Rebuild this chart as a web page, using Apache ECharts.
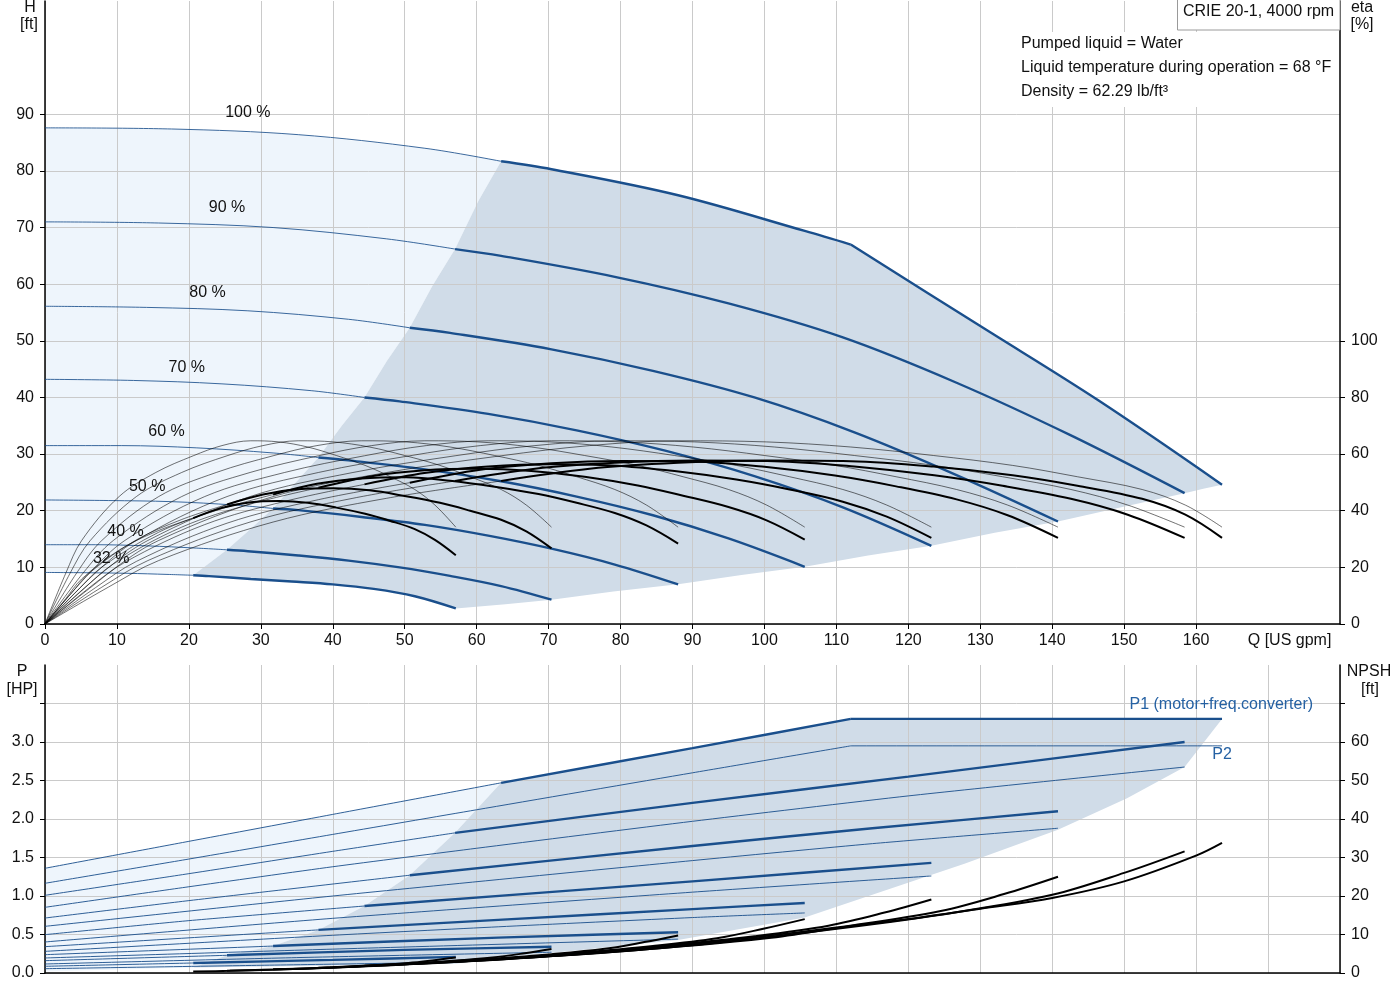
<!DOCTYPE html>
<html><head><meta charset="utf-8">
<script src="https://cdn.jsdelivr.net/npm/echarts@6.0.0/dist/echarts.min.js"></script>
<style>html,body{margin:0;padding:0;background:#fff}#chart{width:1400px;height:1000px}</style>
</head><body><div id="chart"></div>
<script>
// ---------- axis ticks / labels ----------
const qTicks = [0,10,20,30,40,50,60,70,80,90,100,110,120,130,140,150,160];
const qLabelValues = [0,10,20,30,40,50,60,70,80,90,100,110,120,130,140,150,160,170];
const qUnitLabel = 'Q [US gpm]';
const hTicks = [0,10,20,30,40,50,60,70,80,90];
const etaTicks = [0,20,40,60,80,100];
const pTicks = [0,0.5,1,1.5,2,2.5,3];
const pTickMarks = [0,0.5,1,1.5,2,2.5,3,3.5];
const npshTicks = [0,10,20,30,40,50,60];
const npshTickMarks = [0,10,20,30,40,50,60,70];

// ---------- speed labels ----------
const speeds = ['100 %','90 %','80 %','70 %','60 %','50 %','40 %','32 %'];
const speedLabelQ = [28.2, 25.3, 22.6, 19.7, 16.9, 14.2, 11.2, 9.2];
const speedLabelH = [90.3, 73.5, 58.5, 45.3, 33.9, 24.2, 16.3, 11.5];
const thickStartQ = [63.4, 57, 50.7, 44.4, 38, 31.7, 25.3, 20.6];
const powerLimitQ = 112;

// ---------- head curves H [ft] ----------
const headQ100 = [0, 17.6, 35.2, 52.8, 63.4, 70.4, 88, 105.6, 112, 130, 146.4, 163.6];
const head100  = [87.6, 87.4, 86.4, 84.0, 81.7, 80.3, 75.7, 69.4, 67.0, 52.6, 39.5, 24.6];
const headQ90 = [0, 15.8, 31.7, 47.5, 57.0, 63.4, 79.2, 95.0, 110.9, 126.7, 142.6, 158.4];
const head90  = [71.0, 70.8, 70.0, 68.0, 66.2, 65.0, 61.3, 56.6, 50.6, 42.6, 33.3, 23.1];
const headQ80 = [0, 14.1, 28.2, 42.2, 50.7, 56.3, 70.4, 84.5, 98.6, 112.6, 126.7, 140.8];
const head80  = [56.1, 55.9, 55.3, 53.8, 52.3, 51.4, 48.5, 44.7, 40.0, 33.8, 26.3, 18.1];
const headQ70 = [0, 12.3, 24.6, 37.0, 44.4, 49.3, 61.6, 73.9, 86.2, 98.6, 110.9, 123.2];
const head70  = [43.2, 43.0, 42.4, 41.2, 40.0, 39.3, 37.1, 34.2, 30.6, 26.1, 20.6, 13.8];
const headQ60 = [0, 10.6, 21.1, 31.7, 38.0, 42.2, 52.8, 63.4, 73.9, 84.5, 95.0, 105.6];
const head60  = [31.5, 31.5, 31.1, 30.2, 29.4, 28.9, 27.3, 25.2, 22.5, 19.2, 15.1, 10.1];
const headQ50 = [0, 8.8, 17.6, 26.4, 31.7, 35.2, 44, 52.8, 61.6, 70.4, 79.2, 88];
const head50  = [21.9, 21.8, 21.6, 21.0, 20.4, 20.1, 18.9, 17.5, 15.6, 13.3, 10.5, 7.0];
const headQ40 = [0, 7.0, 14.1, 21.1, 25.3, 28.2, 35.2, 42.2, 49.3, 56.3, 63.4, 70.4];
const head40  = [14.0, 14.0, 13.8, 13.4, 13.1, 12.85, 12.1, 11.2, 10.0, 8.5, 6.7, 4.3];
const headQ32 = [0, 5.7, 11.4, 17.1, 20.6, 22.8, 28.6, 34.3, 40, 45.7, 51.4, 57.1];
const head32  = [9.1, 9.05, 8.95, 8.75, 8.6, 8.45, 7.95, 7.5, 7.0, 6.2, 4.9, 2.75];

// operating-area boundaries (top chart)
const hLeftQ = [20.6, 23, 25.3, 28.5, 31.7, 34.8, 38, 41.2, 44.4, 47.5, 50.7, 53.8, 57, 60.2, 63.4];
const hLeftH = [8.6, 10.9, 13.1, 16.7, 20.4, 24.9, 29.4, 34.9, 40.0, 46.4, 52.3, 59.6, 66.2, 74.6, 81.7];
const hRightQ = [57.1, 64, 70.4, 79, 88, 96.8, 105.6, 114.4, 123.2, 132, 140.8, 149.6, 158.4, 161, 163.6];
const hRightH = [2.75, 3.5, 4.3, 5.75, 7.0, 8.65, 10.1, 12.1, 13.8, 16.1, 18.1, 20.6, 23.1, 23.9, 24.6];

// ---------- efficiency curves eta [%] ----------
const etaQ100 = [0, 8.8, 15.8, 31.7, 47.5, 63.4, 75.7, 88.0, 100.3, 112.0, 123.5, 134.5, 143.5, 152.5, 158.5, 163.6];
const etaQ90  = [0, 7.9, 14.3, 28.5, 42.8, 57.0, 68.1, 79.2, 90.3, 101.4, 112.5, 123.6, 133.1, 142.6, 150.5, 158.4];
const etaQ80  = [0, 7.0, 12.7, 25.3, 38.0, 50.7, 60.5, 70.4, 80.3, 90.1, 100.0, 109.8, 118.3, 126.7, 133.8, 140.8];
const etaQ70  = [0, 6.2, 11.1, 22.2, 33.3, 44.4, 53.0, 61.6, 70.2, 78.8, 87.5, 96.1, 103.5, 110.9, 117.0, 123.2];
const etaQ60  = [0, 5.3, 9.5, 19.0, 28.5, 38.0, 45.4, 52.8, 60.2, 67.6, 75.0, 82.4, 88.7, 95.0, 100.3, 105.6];
const etaQ50  = [0, 4.4, 7.9, 15.8, 23.8, 31.7, 37.8, 44.0, 50.2, 56.3, 62.5, 68.6, 73.9, 79.2, 83.6, 88.0];
const etaQ40  = [0, 3.5, 6.3, 12.7, 19.0, 25.3, 30.3, 35.2, 40.1, 45.1, 50.0, 54.9, 59.1, 63.4, 66.9, 70.4];
const etaQ32  = [0, 2.9, 5.1, 10.3, 15.4, 20.6, 24.6, 28.6, 32.5, 36.5, 40.5, 44.5, 48.0, 51.4, 54.2, 57.1];
const etaPump = [0, 18, 29.5, 45, 53.5, 59.4, 63, 64.7, 64.3, 62.5, 59.5, 56, 52, 47.5, 42, 34.2];
const etaTot100 = [0, 13.0, 22.4, 36.0, 44.4, 50.5, 54.8, 56.9, 57.7, 57.5, 55.6, 52.5, 48.8, 44.2, 38.6, 30.4];
const etaTot90  = [0, 13.0, 22.4, 36.0, 44.4, 50.5, 54.8, 56.9, 57.7, 57.5, 55.6, 52.5, 48.8, 44.2, 38.6, 30.4];
const etaTot80  = [0, 12.8, 22.1, 35.6, 43.9, 49.9, 54.5, 56.8, 57.6, 57.4, 55.5, 52.4, 48.6, 44.0, 38.4, 30.4];
const etaTot70  = [0, 12.6, 21.8, 35.1, 43.3, 49.3, 53.4, 55.6, 56.4, 56.0, 54.0, 51.0, 47.5, 43.2, 37.9, 30.4];
const etaTot60  = [0, 12.2, 21.2, 34.2, 42.3, 48.1, 52.2, 54.3, 54.8, 54.0, 52.0, 48.9, 45.3, 41.3, 36.6, 29.8];
const etaTot50  = [0, 11.5, 20.1, 32.4, 40.1, 45.7, 49.5, 51.4, 51.8, 50.6, 48.5, 45.9, 42.8, 39.2, 34.8, 28.4];
const etaTot40  = [0, 10.4, 18.3, 29.7, 36.9, 42.2, 45.7, 47.6, 47.9, 47.2, 45.2, 42.8, 40.0, 36.8, 32.7, 26.7];
const etaTot32  = [0, 9.0, 15.9, 26.1, 32.6, 37.4, 41.0, 43.0, 43.4, 42.8, 41.1, 38.9, 36.4, 33.5, 29.7, 24.3];

// ---------- power curves P [HP] ----------
const p1Q100 = [0, 20, 40, 63.4, 90, 112, 163.6];   const p1_100 = [1.36, 1.71, 2.06, 2.47, 2.92, 3.30, 3.30];
const p2Q100 = [0, 20, 40, 60, 90, 112, 163.6];     const p2_100 = [1.165, 1.48, 1.80, 2.12, 2.60, 2.95, 2.95];
const p1Q90 = [0, 20, 40, 57, 90, 120, 158.4];      const p1_90 = [1.009, 1.29, 1.58, 1.82, 2.21, 2.55, 3.0];
const p2Q90 = [0, 20, 40, 60, 90, 120, 158.4];      const p2_90 = [0.853, 1.12, 1.38, 1.62, 1.97, 2.30, 2.675];
const p1Q80 = [0, 20, 50.7, 90, 115, 140.8];        const p1_80 = [0.714, 0.94, 1.27, 1.65, 1.88, 2.10];
const p2Q80 = [0, 40, 90, 115, 140.8];              const p2_80 = [0.606, 1.0, 1.46, 1.68, 1.88];
const p1Q70 = [0, 20, 44.4, 90, 123.2];             const p1_70 = [0.498, 0.68, 0.87, 1.19, 1.43];
const p2Q70 = [0, 40, 90, 123.2];                   const p2_70 = [0.403, 0.71, 1.05, 1.26];
const p1Q60 = [0, 38, 63, 90, 105.6];               const p1_60 = [0.342, 0.56, 0.69, 0.83, 0.91];
const p2Q60 = [0, 40, 63, 90, 105.6];               const p2_60 = [0.281, 0.49, 0.60, 0.72, 0.78];
const p1Q50 = [0, 31.7, 63, 88];                    const p1_50 = [0.238, 0.35, 0.46, 0.53];
const p2Q50 = [0, 40, 88];                          const p2_50 = [0.195, 0.31, 0.44];
const p1Q40 = [0, 25.3, 50, 70.4];                  const p1_40 = [0.16, 0.23, 0.30, 0.34];
const p2Q40 = [0, 35, 70.4];                        const p2_40 = [0.117, 0.20, 0.27];
const p1Q32 = [0, 20.6, 40, 57.1];                  const p1_32 = [0.087, 0.13, 0.17, 0.21];
const p2Q32 = [0, 30, 57.1];                        const p2_32 = [0.056, 0.10, 0.14];

// operating-area boundaries (bottom chart)
const pLeftQ = [20.6, 25.3, 31.7, 38, 44.4, 50.7, 57, 63.4];
const pLeftP = [0.07, 0.23, 0.35, 0.56, 0.87, 1.27, 1.82, 2.47];
const pRightQ = [20.6, 57.1, 63, 70.4, 88, 105.6, 127.8, 140.8, 150.4, 158.4, 163.6];
const pRightP = [0.07, 0.12, 0.20, 0.26, 0.43, 0.72, 1.42, 1.86, 2.27, 2.675, 3.30];
const pLightFloor = 0.02;

// ---------- NPSH curves [ft] ----------
const nQ100 = [63.4, 79.2, 100.3, 112, 120, 130, 140, 150, 160, 163.6];
const npsh100 = [3.8, 5.5, 9.0, 12.2, 14.0, 16.7, 19.5, 23.8, 30.5, 33.8];
const nQ90 = [57, 71.3, 90.3, 110.9, 126.7, 140, 150, 158.4];
const npsh90 = [3.08, 4.46, 7.29, 11.7, 15.8, 20.3, 26.0, 31.6];
const nQ80 = [50.7, 63.4, 80.3, 98.6, 112.6, 124.5, 133.3, 140.8];
const npsh80 = [2.43, 3.52, 5.76, 9.28, 12.5, 16.1, 20.5, 25.0];
const nQ70 = [44.4, 55.4, 70.2, 86.2, 98.6, 108.9, 116.7, 123.2];
const npsh70 = [1.86, 2.7, 4.41, 7.1, 9.56, 12.3, 15.7, 19.1];
const nQ60 = [38, 47.5, 60.2, 73.9, 84.5, 93.4, 100, 105.6];
const npsh60 = [1.37, 1.98, 3.24, 5.22, 7.02, 9.04, 11.56, 14.0];
const nQ50 = [31.7, 39.6, 50.2, 61.6, 70.4, 77.8, 83.3, 88];
const npsh50 = [0.95, 1.38, 2.25, 3.63, 4.88, 6.28, 8.03, 9.75];
const nQ40 = [25.3, 31.7, 40.1, 49.3, 56.3, 62.2, 66.7, 70.4];
const npsh40 = [0.61, 0.88, 1.44, 2.32, 3.12, 4.02, 5.14, 6.24];
const nQ32 = [20.6, 25.7, 32.5, 40, 45.7, 50.5, 54.1, 57.1];
const npsh32 = [0.39, 0.56, 0.92, 1.48, 2.0, 2.57, 3.29, 4.0];

// P1 / P2 label anchors
const p1LabelQ = 163.5, p1LabelP = 3.48, p1LabelText = 'P1 (motor+freq.converter)';
const p2LabelQ = 163.6, p2LabelP = 2.83, p2LabelText = 'P2';

// ---------- build ----------
const FONT = "'Liberation Sans', Arial, Helvetica, sans-serif";
const BLUE = '#1a4f8c';
const TXT = '#111111';
const GRIDC = '#cacaca';

const headSets = [[headQ100,head100],[headQ90,head90],[headQ80,head80],[headQ70,head70],[headQ60,head60],[headQ50,head50],[headQ40,head40],[headQ32,head32]];
const etaQs = [etaQ100,etaQ90,etaQ80,etaQ70,etaQ60,etaQ50,etaQ40,etaQ32];
const etaTots = [etaTot100,etaTot90,etaTot80,etaTot70,etaTot60,etaTot50,etaTot40,etaTot32];
const p1Sets = [[p1Q100,p1_100],[p1Q90,p1_90],[p1Q80,p1_80],[p1Q70,p1_70],[p1Q60,p1_60],[p1Q50,p1_50],[p1Q40,p1_40],[p1Q32,p1_32]];
const p2Sets = [[p2Q100,p2_100],[p2Q90,p2_90],[p2Q80,p2_80],[p2Q70,p2_70],[p2Q60,p2_60],[p2Q50,p2_50],[p2Q40,p2_40],[p2Q32,p2_32]];
const nSets = [[nQ100,npsh100],[nQ90,npsh90],[nQ80,npsh80],[nQ70,npsh70],[nQ60,npsh60],[nQ50,npsh50],[nQ40,npsh40],[nQ32,npsh32]];

function pairs(qs, vs){ return qs.map((q,i)=>[q, vs[i]]); }
function pieces(qs, vs, breaks){
  const pts = pairs(qs, vs);
  const b = [-Infinity, ...breaks, Infinity];
  const out = [];
  for (let i=0;i<b.length-1;i++) out.push(pts.filter(p=>p[0]>=b[i] && p[0]<=b[i+1]));
  return out;
}
const series = [];
function addLine(data, xi, yi, color, width, z, smooth){
  if (data.length < 2) return;
  series.push({type:'line', xAxisIndex:xi, yAxisIndex:yi, data, symbol:'none', showSymbol:false,
    smooth: smooth===undefined ? 0.35 : smooth, silent:true, animation:false, z: z||3,
    lineStyle:{color, width}});
}
function addPoly(xi, yi, pts, color){
  series.push({type:'custom', xAxisIndex:xi, yAxisIndex:yi, z:-1, silent:true, animation:false,
    data:[pts[0]],
    renderItem:(params, api)=>({type:'polygon', shape:{points: pts.map(p=>api.coord(p))}, style:{fill:color}})});
}

// ---- fills top
const h100pts = pairs(headQ100, head100);
const h32pts = pairs(headQ32, head32);
const leftPts = pairs(hLeftQ, hLeftH);
const rightPts = pairs(hRightQ, hRightH);
const lightTop = [
  ...h100pts.filter(p=>p[0]<=thickStartQ[0]),
  ...leftPts.slice(0,-1).reverse(),
  ...h32pts.filter(p=>p[0]<thickStartQ[7]).reverse()
];
const darkTop = [
  ...h100pts.filter(p=>p[0]>=thickStartQ[0]),
  ...rightPts.slice(0,-1).reverse(),
  ...h32pts.filter(p=>p[0]>=thickStartQ[7] && p[0]<hRightQ[0]).reverse(),
  ...leftPts.slice(1,-1)
];
addPoly(0,0,lightTop,'#eef5fc');
addPoly(0,0,darkTop,'#d0dce8');

// ---- fills bottom
const p1_100pts = pairs(p1Q100, p1_100);
const pLeftPts = pairs(pLeftQ, pLeftP);
const pRightPts = pairs(pRightQ, pRightP);
const lightBot = [
  ...p1_100pts.filter(p=>p[0]<=thickStartQ[0]),
  ...pLeftPts.slice(0,-1).reverse(),
  [0, pLightFloor]
];
const darkBot = [
  ...p1_100pts.filter(p=>p[0]>=thickStartQ[0]),
  ...pRightPts.slice(0,-1).reverse(),
  ...pLeftPts.slice(1,-1)
];
addPoly(1,2,lightBot,'#eef5fc');
addPoly(1,2,darkBot,'#d0dce8');

// ---- curves
for (let i=0;i<8;i++){
  const brk = i===0 ? [thickStartQ[i], powerLimitQ] : [thickStartQ[i]];
  // head
  const hs = pieces(headSets[i][0], headSets[i][1], brk);
  addLine(hs[0],0,0,'rgba(26,79,140,0.85)',1,4);
  for (let k=1;k<hs.length;k++) addLine(hs[k],0,0,BLUE,2.4,5);
  // eta pump (thin)
  addLine(pairs(etaQs[i], etaPump),0,1,'rgba(0,0,0,0.7)',0.8,6);
  // eta total
  const es = pieces(etaQs[i], etaTots[i], [thickStartQ[i]]);
  addLine(es[0],0,1,'rgba(0,0,0,0.7)',0.8,6);
  addLine(es[1],0,1,'#000',2,7);
  // P1
  const ps = pieces(p1Sets[i][0], p1Sets[i][1], brk);
  addLine(ps[0],1,2,'rgba(26,79,140,0.9)',1,4,0.2);
  for (let k=1;k<ps.length;k++) addLine(ps[k],1,2,BLUE,2.4,5,0.2);
  // P2
  const p2s = i===0 ? pieces(p2Sets[i][0], p2Sets[i][1], [powerLimitQ]) : [pairs(p2Sets[i][0], p2Sets[i][1])];
  p2s.forEach(s=>addLine(s,1,2,'rgba(26,79,140,0.9)',1,4,0.2));
  // NPSH
  addLine(pairs(nSets[i][0], nSets[i][1]),1,3,'#000',2,7);
}

// ---- labels
series.push({type:'scatter', xAxisIndex:0, yAxisIndex:0, symbolSize:1, silent:true, animation:false, z:10,
  itemStyle:{color:'rgba(0,0,0,0)'},
  label:{show:true, position:'inside', formatter:p=>p.name, color:TXT, opacity:1, textBorderWidth:0, fontSize:16, fontFamily:FONT},
  data: speeds.map((s,i)=>({name:s, value:[speedLabelQ[i], speedLabelH[i]]}))});
series.push({type:'scatter', xAxisIndex:1, yAxisIndex:2, symbolSize:1, silent:true, animation:false, z:10,
  itemStyle:{color:'rgba(0,0,0,0)'},
  label:{show:true, position:'inside', formatter:p=>p.name, color:'#2561a3', opacity:1, textBorderWidth:0, fontSize:16, fontFamily:FONT},
  data:[{name:p1LabelText, value:[p1LabelQ,p1LabelP]},{name:p2LabelText, value:[p2LabelQ,p2LabelP]}]});

const axisLine = {show:true, onZero:false, lineStyle:{color:'#000', width:1.5}};
const splitLine = {show:true, lineStyle:{color:GRIDC, width:1}};
const lbl = (extra)=>Object.assign({color:TXT, fontSize:16, fontFamily:FONT}, extra);

const option = {
  backgroundColor:'#fff',
  animation:false,
  grid:[
    {left:45, right:60, top:1, height:623, containLabel:false, outerBoundsMode:'none'},
    {left:45, right:60, top:665, height:308, containLabel:false, outerBoundsMode:'none'}
  ],
  xAxis:[
    {gridIndex:0, type:'value', min:0, max:180, interval:10, axisLine, splitLine,
     axisTick:{show:true, customValues:qTicks, length:5, lineStyle:{color:'#000'}},
     axisLabel:lbl({margin:9, customValues:qLabelValues,
       formatter:v=> v===170 ? '{q|'+qUnitLabel+'}' : String(v),
       rich:{q:{fontSize:16, fontFamily:FONT, color:TXT, padding:[0,0,0,43]}}})},
    {gridIndex:1, type:'value', min:0, max:180, interval:10, axisLine, splitLine,
     axisTick:{show:false}, axisLabel:{show:false}}
  ],
  yAxis:[
    {gridIndex:0, type:'value', position:'left', min:0, max:110, interval:10, axisLine, splitLine,
     axisTick:{show:true, customValues:hTicks, length:5, lineStyle:{color:'#000'}},
     axisLabel:lbl({customValues:hTicks, margin:11})},
    {gridIndex:0, type:'value', position:'right', min:0, max:220, interval:20, axisLine,
     splitLine:{show:false},
     axisTick:{show:true, customValues:etaTicks, length:5, lineStyle:{color:'#000'}},
     axisLabel:lbl({customValues:etaTicks, margin:11})},
    {gridIndex:1, type:'value', position:'left', min:0, max:4, interval:0.5, axisLine, splitLine,
     axisTick:{show:true, customValues:pTickMarks, length:5, lineStyle:{color:'#000'}},
     axisLabel:lbl({customValues:pTicks, margin:11, formatter:v=>v.toFixed(1)})},
    {gridIndex:1, type:'value', position:'right', min:0, max:80, interval:10, axisLine,
     splitLine:{show:false},
     axisTick:{show:true, customValues:npshTickMarks, length:5, lineStyle:{color:'#000'}},
     axisLabel:lbl({customValues:npshTicks, margin:11})}
  ],
  graphic:[
    {type:'rect', z:50, shape:{x:1017, y:32, width:322, height:75}, style:{fill:'#fff'}},
    {type:'rect', z:50, shape:{x:1177.5, y:-1, width:162.5, height:31}, style:{fill:'#fff', stroke:'#9a9a9a', lineWidth:1}},
    {type:'text', z:51, x:1183, y:12, style:{text:'CRIE 20-1, 4000 rpm', font:'16px '+FONT, fill:TXT, verticalAlign:'middle', align:'left'}},
    {type:'text', z:51, x:1021, y:44, style:{text:'Pumped liquid = Water', font:'16px '+FONT, fill:TXT, verticalAlign:'middle', align:'left'}},
    {type:'text', z:51, x:1021, y:68, style:{text:'Liquid temperature during operation = 68 °F', font:'16px '+FONT, fill:TXT, verticalAlign:'middle', align:'left'}},
    {type:'text', z:51, x:1021, y:92, style:{text:'Density = 62.29 lb/ft³', font:'16px '+FONT, fill:TXT, verticalAlign:'middle', align:'left'}},
    {type:'text', z:51, x:30, y:8, style:{text:'H', font:'16px '+FONT, fill:TXT, verticalAlign:'middle', align:'center'}},
    {type:'text', z:51, x:29, y:25, style:{text:'[ft]', font:'16px '+FONT, fill:TXT, verticalAlign:'middle', align:'center'}},
    {type:'text', z:51, x:1362, y:8, style:{text:'eta', font:'16px '+FONT, fill:TXT, verticalAlign:'middle', align:'center'}},
    {type:'text', z:51, x:1362, y:25, style:{text:'[%]', font:'16px '+FONT, fill:TXT, verticalAlign:'middle', align:'center'}},
    {type:'text', z:51, x:22, y:672, style:{text:'P', font:'16px '+FONT, fill:TXT, verticalAlign:'middle', align:'center'}},
    {type:'text', z:51, x:22, y:690, style:{text:'[HP]', font:'16px '+FONT, fill:TXT, verticalAlign:'middle', align:'center'}},
    {type:'text', z:51, x:1369, y:672, style:{text:'NPSH', font:'16px '+FONT, fill:TXT, verticalAlign:'middle', align:'center'}},
    {type:'text', z:51, x:1370, y:690, style:{text:'[ft]', font:'16px '+FONT, fill:TXT, verticalAlign:'middle', align:'center'}}
  ],
  series
};
const chart = echarts.init(document.getElementById('chart'), null, {renderer:'canvas'});
chart.setOption(option);
</script></body></html>
